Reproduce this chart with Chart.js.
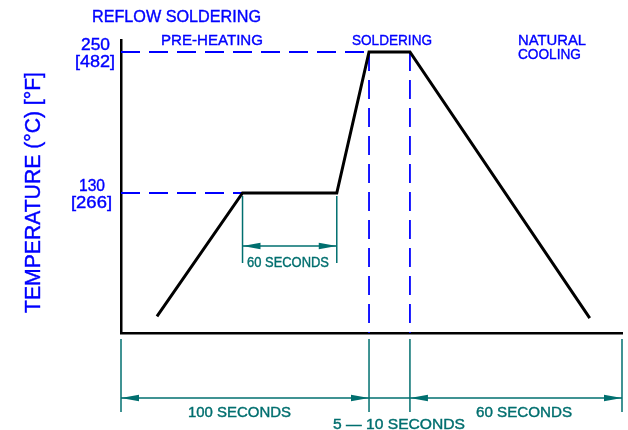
<!DOCTYPE html>
<html>
<head>
<meta charset="utf-8">
<script src="https://cdn.jsdelivr.net/npm/chart.js@4/dist/chart.umd.min.js"></script>
<style>
  html, body { margin: 0; padding: 0; background: #fff; }
  #wrap { width: 628px; height: 430px; }
</style>
</head>
<body>
<div id="wrap"><canvas id="chart" width="628" height="430"></canvas></div>
<script>
// profile (x in seconds, scaled from the 100 s dimension; y in deg C)
const timeSec = [14.5, 49, 87, 100, 116.5, 189];
const tempC = [25, 130, 130, 250, 250, 23.5];

// marked temperatures
const tempMarks = [250, 130];
const tempMarkF = ["[482]", "[266]"];
const tempMarkC = ["250", "130"];

// phase boundaries on the time axis
const dimStops = [0, 100, 116.5, 202];
const dimLabels = ["100 SECONDS", "5 \u2014 10 SECONDS", "60 SECONDS"];
const holdStart = 49;
const holdEnd = 87;
const holdLabel = "60 SECONDS";

const BLUE = "#0000ff";
const TEAL = "#006f6f";

function fitText(ctx, text, left, right, baseline, cap, color) {
  const size = cap / 0.716;
  ctx.save();
  ctx.font = size + "px 'Liberation Sans', Arial, sans-serif";
  ctx.fillStyle = color;
  ctx.strokeStyle = color;
  ctx.lineWidth = 0.4;
  ctx.textAlign = "left";
  ctx.textBaseline = "alphabetic";
  const w = ctx.measureText(text).width;
  ctx.translate(left, baseline);
  ctx.scale((right - left) / w, 1);
  ctx.fillText(text, 0, 0);
  ctx.strokeText(text, 0, 0);
  ctx.restore();
}

function arrow(ctx, tipX, y, dir) {
  // dir = -1 points left, 1 points right
  ctx.beginPath();
  ctx.moveTo(tipX, y);
  ctx.lineTo(tipX - dir * 18, y - 3.3);
  ctx.lineTo(tipX - dir * 18, y + 3.3);
  ctx.closePath();
  ctx.fill();
}

function line(ctx, x1, y1, x2, y2) {
  ctx.beginPath();
  ctx.moveTo(x1, y1);
  ctx.lineTo(x2, y2);
  ctx.stroke();
}

const guides = {
  id: "guides",
  beforeDatasetsDraw(chart) {
    const ctx = chart.ctx;
    const xs = chart.scales.x, ys = chart.scales.y;
    const left = chart.chartArea.left, bottom = chart.chartArea.bottom;
    ctx.save();
    ctx.strokeStyle = BLUE;
    ctx.lineWidth = 1.8;
    ctx.setLineDash([19, 9]);
    // 250 line to start of soldering, 130 line to end of ramp
    line(ctx, left, ys.getPixelForValue(tempMarks[0]), xs.getPixelForValue(timeSec[3]), ys.getPixelForValue(tempMarks[0]));
    line(ctx, left, ys.getPixelForValue(tempMarks[1]), xs.getPixelForValue(timeSec[1]), ys.getPixelForValue(tempMarks[1]));
    // soldering window
    [timeSec[3], timeSec[4]].forEach(t => {
      const px = xs.getPixelForValue(t);
      line(ctx, px, ys.getPixelForValue(tempMarks[0]), px, bottom);
    });
    ctx.restore();
  },
  afterDraw(chart) {
    const ctx = chart.ctx;
    const xs = chart.scales.x, ys = chart.scales.y;
    ctx.save();

    // titles
    fitText(ctx, "REFLOW SOLDERING", 92, 261, 22, 11.7, BLUE);
    fitText(ctx, "PRE-HEATING", 161, 263, 45, 11, BLUE);
    fitText(ctx, "SOLDERING", 352, 432, 45, 11, BLUE);
    fitText(ctx, "NATURAL", 518, 586, 45, 11, BLUE);
    fitText(ctx, "COOLING", 518, 581, 59, 11, BLUE);

    // temperature marks
    const cBase = [50, 191], fBase = [67, 208];
    const cX = [[81, 110], [79, 105]], fX = [[75, 115], [71, 112]];
    tempMarks.forEach((t, i) => {
      fitText(ctx, tempMarkC[i], cX[i][0], cX[i][1], cBase[i], 11.5, BLUE);
      fitText(ctx, tempMarkF[i], fX[i][0], fX[i][1], fBase[i], 11.5, BLUE);
    });

    // y title
    ctx.save();
    ctx.translate(40, 313);
    ctx.rotate(-Math.PI / 2);
    fitText(ctx, "TEMPERATURE (\u00b0C) [\u00b0F]", 0, 241, 0, 16, BLUE);
    ctx.restore();

    // hold-time dimension
    ctx.strokeStyle = TEAL;
    ctx.fillStyle = TEAL;
    ctx.lineWidth = 1.5;
    const h1 = xs.getPixelForValue(holdStart), h2 = xs.getPixelForValue(holdEnd);
    const hy = 246;
    line(ctx, h1, ys.getPixelForValue(130) + 3, h1, 263);
    line(ctx, h2, ys.getPixelForValue(130) + 3, h2, 263);
    line(ctx, h1, hy, h2, hy);
    arrow(ctx, h1, hy, -1);
    arrow(ctx, h2, hy, 1);
    fitText(ctx, holdLabel, 247, 329, 267, 10.5, TEAL);

    // time dimensions along the bottom
    const dy = 398;
    const px = dimStops.map(v => xs.getPixelForValue(v));
    px.forEach(p => line(ctx, p, 339, p, 412));
    line(ctx, px[0], dy, px[3], dy);
    arrow(ctx, px[0], dy, -1);
    arrow(ctx, px[1], dy, 1);
    arrow(ctx, px[2], dy, -1);
    arrow(ctx, px[3], dy, 1);
    fitText(ctx, dimLabels[0], 188, 291, 417, 10.5, TEAL);
    fitText(ctx, dimLabels[1], 333, 465, 429, 10.5, TEAL);
    fitText(ctx, dimLabels[2], 476, 572, 417, 10.5, TEAL);

    ctx.restore();
  }
};

new Chart(document.getElementById("chart"), {
  type: "line",
  data: {
    datasets: [{
      data: timeSec.map((t, i) => ({ x: t, y: tempC[i] })),
      borderColor: "#000",
      borderWidth: 3,
      pointRadius: 0,
      tension: 0,
      fill: false
    }]
  },
  options: {
    responsive: false,
    animation: false,
    layout: { padding: { left: 121, right: 6, top: 40, bottom: 97 } },
    plugins: { legend: { display: false }, tooltip: { enabled: false } },
    scales: {
      x: {
        type: "linear",
        min: 0,
        max: 202,
        grid: { display: false, drawTicks: false },
        ticks: { display: false },
        border: { display: true, color: "#000", width: 2.5 }
      },
      y: {
        type: "linear",
        min: 10.85,
        max: 260.2,
        grid: { display: false, drawTicks: false },
        ticks: { display: false },
        border: { display: true, color: "#000", width: 2.5 }
      }
    }
  },
  plugins: [guides]
});
</script>
</body>
</html>
